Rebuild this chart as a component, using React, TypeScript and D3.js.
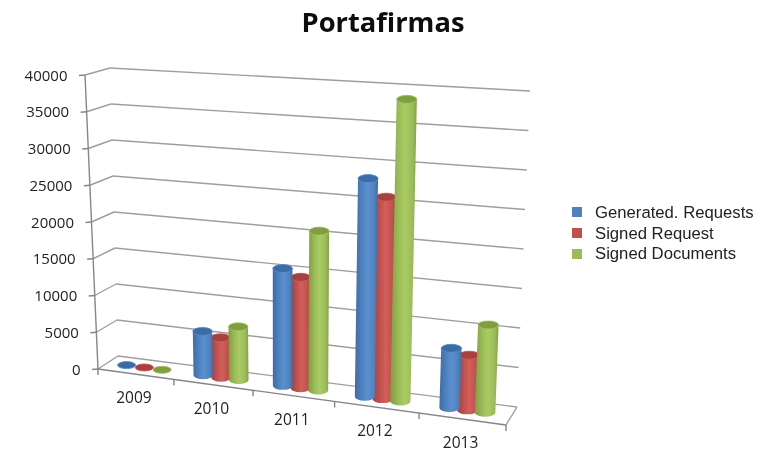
import { scaleLinear, range } from "d3";

const WIDTH = 767;
const HEIGHT = 449;

const categories = ["2009", "2010", "2011", "2012", "2013"];
const seriesNames = ["Generated. Requests", "Signed Request", "Signed Documents"];
const generated = [120, 5900, 15500, 28300, 7600];
const signedRequest = [90, 5350, 14600, 26100, 7000];
const signedDocuments = [80, 7100, 20900, 38900, 11100];
const yTicks = [0, 5000, 10000, 15000, 20000, 25000, 30000, 35000, 40000];
// category edges aren't evenly spaced because of the perspective
const edgeFractions = [0, 0.186, 0.38, 0.58, 0.787, 1];

const seriesValues = [generated, signedRequest, signedDocuments];
const colors = ["#4F81BD", "#C0504D", "#9BBB59"];
const darks = ["#3d6ca6", "#a53f3c", "#7f9e40"];
const lights = ["#5a90d0", "#d25f5b", "#a9cb62"];
const topFills = ["#3b6ca6", "#a83f3c", "#7f9e40"];

// corners of the 3D box, [front, back]
const leftX = [scaleLinear().domain([0, 40000]).range([98, 85]), scaleLinear().domain([0, 40000]).range([118, 110])];
const leftY = [scaleLinear().domain([0, 40000]).range([369, 75]), scaleLinear().domain([0, 40000]).range([356, 68])];
const rightX = [scaleLinear().domain([0, 40000]).range([506, 519]), scaleLinear().domain([0, 40000]).range([517, 530])];
const rightY = [scaleLinear().domain([0, 40000]).range([425, 105]), scaleLinear().domain([0, 40000]).range([407, 91])];
const edgeScale = scaleLinear().domain(range(edgeFractions.length)).range(edgeFractions);

function project(u: number, v: number, value: number) {
  const lx = leftX[0](value) + (leftX[1](value) - leftX[0](value)) * v;
  const ly = leftY[0](value) + (leftY[1](value) - leftY[0](value)) * v;
  const rx = rightX[0](value) + (rightX[1](value) - rightX[0](value)) * v;
  const ry = rightY[0](value) + (rightY[1](value) - rightY[0](value)) * v;
  return [lx + (rx - lx) * u, ly + (ry - ly) * u];
}

const seg = (a: number[], b: number[]) => `M${a[0]},${a[1]}L${b[0]},${b[1]}`;

function Cylinder({ catIndex, seriesIndex }: { catIndex: number; seriesIndex: number }) {
  const value = seriesValues[seriesIndex][catIndex];
  const u = edgeScale(catIndex + 0.5) + (seriesIndex - 1) * 0.044;
  const [bx0, by] = project(u, 0.5, 0);
  const [tx0, ty] = project(u, 0.5, value);
  const bx = bx0 - 1.2;
  const tx = tx0 - 1.2;
  const r = 9.5 + u * 0.8;
  const ry = 4;
  if (value < 500) {
    return <ellipse cx={bx} cy={by} rx={r - 0.5} ry={3.5} fill={topFills[seriesIndex]} stroke={colors[seriesIndex]} strokeWidth={0.8} />;
  }
  const body = `M${tx - r},${ty}L${bx - r},${by}A${r},${ry} 0 0 0 ${bx + r},${by}L${tx + r},${ty}A${r},${ry} 0 0 0 ${tx - r},${ty}Z`;
  return (
    <g>
      <path d={body} fill={`url(#cyl${seriesIndex})`} />
      <ellipse cx={tx} cy={ty} rx={r} ry={ry} fill={topFills[seriesIndex]} stroke={lights[seriesIndex]} strokeWidth={0.7} />
    </g>
  );
}

export default function App() {
  const gridColor = "#9e9e9e";
  const backLines = yTicks.map((t) => seg(project(0, 1, t), project(1, 1, t)));
  const sideLines = yTicks.map((t) => seg(project(0, 0, t), project(0, 1, t)));
  const leftTicks = yTicks.map((t) => {
    const p = project(0, 0, t);
    return seg([p[0] - 6, p[1] + 0.5], p);
  });
  const catTicks = edgeFractions.map((f) => {
    const p = project(f, 0, 0);
    return seg(p, [p[0], p[1] + 6]);
  });

  return (
    <svg width={WIDTH} height={HEIGHT} viewBox={`0 0 ${WIDTH} ${HEIGHT}`} style={{ position: "absolute", left: 0, top: 0, background: "#fff" }}>
      <defs>
        {colors.map((c, i) => (
          <linearGradient key={c} id={`cyl${i}`} x1="0" x2="1" y1="0" y2="0">
            <stop offset="0" stopColor={darks[i]} />
            <stop offset="0.3" stopColor={c} />
            <stop offset="0.55" stopColor={lights[i]} />
            <stop offset="0.85" stopColor={c} />
            <stop offset="1" stopColor={darks[i]} />
          </linearGradient>
        ))}
        <filter id="soft" x="-5%" y="-5%" width="110%" height="110%">
          <feGaussianBlur stdDeviation="0.45" />
        </filter>
      </defs>

      <g filter="url(#soft)">
        <g fill="none" stroke={gridColor} strokeWidth={1.4}>
          {backLines.map((d) => <path key={d} d={d} />)}
          {sideLines.map((d) => <path key={d} d={d} />)}
          <path d={seg(project(0, 0, 0), project(0, 0, 40000))} stroke="#868686" />
          <path d={seg(project(0, 0, 0), project(1, 0, 0))} stroke="#868686" />
          <path d={seg(project(1, 0, 0), project(1, 1, 0))} />
          {leftTicks.map((d) => <path key={d} d={d} stroke="#868686" />)}
          {catTicks.map((d) => <path key={d} d={d} stroke="#868686" />)}
        </g>

        {categories.map((cat, ci) => (
          <g key={cat}>
            {[1, 0, 2].map((si) => <Cylinder key={si} catIndex={ci} seriesIndex={si} />)}
          </g>
        ))}

        {yTicks.map((t) => {
          const p = project(0, 0, t);
          return (
            <text key={t} x={p[0] - 17.5} y={p[1] + 5.5} textAnchor="end" fontFamily="Open Sans" fontSize={15} fill="#222">{t}</text>
          );
        })}
        {categories.map((cat, ci) => {
          const p = project(edgeScale(ci + 0.5), 0, 0);
          return (
            <text key={cat} x={p[0] - 2} y={p[1] + 29} textAnchor="middle" fontFamily="Open Sans" fontSize={15.5} fill="#222">{cat}</text>
          );
        })}

        {seriesNames.map((name, i) => (
          <g key={name}>
            <rect x={572} y={207 + i * 21} width={10} height={10} fill={colors[i]} />
            <text x={595} y={218 + i * 20.5} fontFamily="Liberation Sans" fontSize={16.7} fill="#222">{name}</text>
          </g>
        ))}

        <text x={383} y={32} textAnchor="middle" fontFamily="Open Sans" fontWeight={700} fontSize={27.3} fill="#111">Portafirmas</text>
      </g>
    </svg>
  );
}
